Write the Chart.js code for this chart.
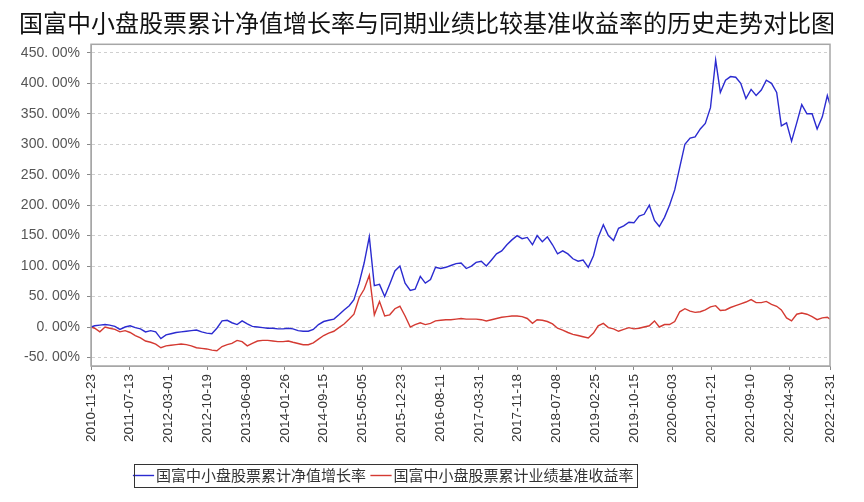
<!DOCTYPE html>
<html>
<head>
<meta charset="utf-8">
<script src="https://cdn.jsdelivr.net/npm/chart.js@4/dist/chart.umd.min.js"></script>
<style>
  html, body { margin: 0; padding: 0; background: #fff; }
  #wrap { width: 864px; height: 502px; }
</style>
</head>
<body>
<div id="wrap"><canvas id="trendChart"></canvas></div>
<script>
const chartTitle = '国富中小盘股票累计净值增长率与同期业绩比较基准收益率的历史走势对比图';
const seriesNames = ['国富中小盘股票累计净值增长率', '国富中小盘股票累计业绩基准收益率'];

// sample dates (month by month)
const dates = [
  '2010-11-23', '2010-12-15',
  '2011-01-15', '2011-02-15', '2011-03-15', '2011-04-15', '2011-05-15', '2011-06-15', '2011-07-15', '2011-08-15', '2011-09-15', '2011-10-15', '2011-11-15', '2011-12-15',
  '2012-01-15', '2012-02-15', '2012-03-15', '2012-04-15', '2012-05-15', '2012-06-15', '2012-07-15', '2012-08-15', '2012-09-15', '2012-10-15', '2012-11-15', '2012-12-15',
  '2013-01-15', '2013-02-15', '2013-03-15', '2013-04-15', '2013-05-15', '2013-06-15', '2013-07-15', '2013-08-15', '2013-09-15', '2013-10-15', '2013-11-15', '2013-12-15',
  '2014-01-15', '2014-02-15', '2014-03-15', '2014-04-15', '2014-05-15', '2014-06-15', '2014-07-15', '2014-08-15', '2014-09-15', '2014-10-15', '2014-11-15', '2014-12-15',
  '2015-01-15', '2015-02-15', '2015-03-15', '2015-04-15', '2015-05-15', '2015-06-15', '2015-07-15', '2015-08-15', '2015-09-15', '2015-10-15', '2015-11-15', '2015-12-15',
  '2016-01-15', '2016-02-15', '2016-03-15', '2016-04-15', '2016-05-15', '2016-06-15', '2016-07-15', '2016-08-15', '2016-09-15', '2016-10-15', '2016-11-15', '2016-12-15',
  '2017-01-15', '2017-02-15', '2017-03-15', '2017-04-15', '2017-05-15', '2017-06-15', '2017-07-15', '2017-08-15', '2017-09-15', '2017-10-15', '2017-11-15', '2017-12-15',
  '2018-01-15', '2018-02-15', '2018-03-15', '2018-04-15', '2018-05-15', '2018-06-15', '2018-07-15', '2018-08-15', '2018-09-15', '2018-10-15', '2018-11-15', '2018-12-15',
  '2019-01-15', '2019-02-15', '2019-03-15', '2019-04-15', '2019-05-15', '2019-06-15', '2019-07-15', '2019-08-15', '2019-09-15', '2019-10-15', '2019-11-15', '2019-12-15',
  '2020-01-15', '2020-02-15', '2020-03-15', '2020-04-15', '2020-05-15', '2020-06-15', '2020-07-15', '2020-08-15', '2020-09-15', '2020-10-15', '2020-11-15', '2020-12-15',
  '2021-01-15', '2021-02-15', '2021-03-15', '2021-04-15', '2021-05-15', '2021-06-15', '2021-07-15', '2021-08-15', '2021-09-15', '2021-10-15', '2021-11-15', '2021-12-15',
  '2022-01-15', '2022-02-15', '2022-03-15', '2022-04-15', '2022-05-15', '2022-06-15', '2022-07-15', '2022-08-15', '2022-09-15', '2022-10-15', '2022-11-15', '2022-12-15',
  '2022-12-31'
];

// fund NAV growth, %
const navGrowth = [
  0, 2,
  3, 4, 3, 1, -4, 0, 2, -1, -3, -8, -6, -8,
  -19, -13, -11, -9, -8, -7, -6, -5, -8, -10, -11, -2,
  10, 11, 7, 4, 10, 5, 1, 0, -1, -2, -2, -3,
  -3, -2, -3, -6, -7, -7, -4, 4, 9, 11, 13, 20,
  28, 35, 45, 72, 105, 148, 68, 70, 50, 70, 92, 100,
  72, 60, 62, 83, 72, 78, 98, 96, 98, 101, 104, 105,
  96, 100, 106, 108, 100, 110, 120, 125, 135, 143, 150, 145,
  147, 135, 150, 140, 148, 135, 120, 125, 120, 112, 108, 110,
  98, 117, 147, 168, 150, 142, 162, 166, 172, 171, 182, 185,
  200, 175, 165, 180, 200, 225, 262, 300, 310, 312, 325, 334,
  360, 438, 385, 405, 411, 410, 400, 375, 390, 380, 389, 405,
  400, 385, 330, 335, 305, 335, 365, 350, 350, 325, 345, 380,
  365
];

// benchmark return, %
const benchmark = [
  0, -2,
  -8, 0, -2, -4, -8, -6, -9, -14, -18, -23, -25, -28,
  -34, -31, -30, -29, -28, -29, -31, -34, -35, -36, -38, -39,
  -32, -29, -27, -22, -24, -31, -27, -23, -22, -22, -23, -24,
  -24, -23, -25, -27, -29, -29, -26, -20, -14, -10, -7, -1,
  5, 13, 21, 48, 62, 85, 20, 42, 18, 20, 30, 34,
  18, 0, 4, 7, 4, 6, 10, 11, 12, 12, 13, 14,
  13, 13, 13, 12, 10, 12, 14, 16, 17, 18, 18, 17,
  14, 6, 12, 11, 9, 5, -2, -5, -9, -12, -14, -16,
  -18, -10, 2, 6, -1, -3, -7, -4, -1, -3, -2, 0,
  2, 10, 0, 4, 4, 9, 25, 30, 26, 24, 25, 28,
  33, 35, 27, 28, 32, 35, 38, 41, 45, 40, 40, 42,
  37, 34, 28, 15, 10, 21, 23, 21, 17, 12, 15, 16,
  13
];

const xTickLabels = [
  '2010-11-23', '2011-07-13', '2012-03-01', '2012-10-19', '2013-06-08',
  '2014-01-26', '2014-09-15', '2015-05-05', '2015-12-23', '2016-08-11',
  '2017-03-31', '2017-11-18', '2018-07-08', '2019-02-25', '2019-10-15',
  '2020-06-03', '2021-01-21', '2021-09-10', '2022-04-30', '2022-12-31'
];
const yTicks = [-50, 0, 50, 100, 150, 200, 250, 300, 350, 400, 450];

const toDay = (s) => Date.parse(s + 'T00:00:00Z') / 86400000;
const toPoints = (values) => values.map((v, i) => ({ x: toDay(dates[i]), y: v }));
const dayToLabel = {};
xTickLabels.forEach((d) => { dayToLabel[toDay(d)] = d; });

const framePlugin = {
  id: 'frame',
  afterLayout(chart) {
    // the original centres its title on the page and its legend a bit to the left
    chart.titleBlock.left += 12;
    chart.titleBlock.right += 12;
    chart.legend.left -= 29;
    chart.legend.right -= 29;
  },
  afterDraw(chart) {
    const { ctx, chartArea: a, legend } = chart;
    ctx.save();
    ctx.strokeStyle = '#a6a6a6';
    ctx.lineWidth = 1.5;
    ctx.strokeRect(a.left, a.top, a.right - a.left, a.bottom - a.top);

    const boxes = legend.legendHitBoxes;
    if (boxes && boxes.length) {
      const left = Math.min(...boxes.map((b) => b.left)) - 4;
      const right = Math.max(...boxes.map((b) => b.left + b.width)) + 4;
      const top = boxes[0].top - 4;
      const bottom = boxes[0].top + boxes[0].height + 4;
      ctx.strokeStyle = '#333';
      ctx.lineWidth = 1;
      ctx.strokeRect(Math.round(left) + 0.5, Math.round(top) + 0.5, Math.round(right - left), Math.round(bottom - top));
    }
    ctx.restore();
  }
};

const buildChart = () => {
  const ctx = document.getElementById('trendChart');
  return new Chart(ctx, {
    type: 'line',
    data: {
      datasets: [
        {
          label: seriesNames[0],
          data: toPoints(navGrowth),
          borderColor: '#2b2bd0',
          backgroundColor: '#2b2bd0',
          borderWidth: 1.4,
          pointRadius: 0,
          tension: 0
        },
        {
          label: seriesNames[1],
          data: toPoints(benchmark),
          borderColor: '#d43a32',
          backgroundColor: '#d43a32',
          borderWidth: 1.4,
          pointRadius: 0,
          tension: 0
        }
      ]
    },
    options: {
      responsive: true,
      maintainAspectRatio: false,
      animation: false,
      layout: { padding: { left: 0, right: 34, top: 0, bottom: 9 } },
      plugins: {
        title: {
          display: true,
          text: chartTitle,
          color: '#111',
          font: { family: '"Noto Sans CJK SC", sans-serif', size: 24, weight: 'normal' },
          padding: { top: 8, bottom: 7.5 }
        },
        legend: {
          position: 'bottom',
          labels: {
            usePointStyle: true,
            pointStyle: 'line',
            boxWidth: 10,
            padding: 10,
            color: '#333',
            font: { family: '"Noto Sans CJK SC", sans-serif', size: 15 }
          }
        },
        tooltip: { enabled: false }
      },
      scales: {
        x: {
          type: 'linear',
          min: toDay(xTickLabels[0]),
          max: toDay(xTickLabels[xTickLabels.length - 1]),
          afterBuildTicks: (scale) => {
            scale.ticks = xTickLabels.map((d) => ({ value: toDay(d) }));
          },
          afterFit: (scale) => { scale.height = 92; },
          grid: { drawOnChartArea: false, drawTicks: true, tickLength: 4, tickColor: '#888' },
          border: { color: '#a6a6a6' },
          ticks: {
            autoSkip: false,
            maxRotation: 90,
            minRotation: 90,
            padding: 4,
            color: '#333',
            font: { family: '"Liberation Sans", Arial, sans-serif', size: 13.5 },
            callback: (value) => dayToLabel[value] || ''
          }
        },
        y: {
          min: -64,
          max: 464,
          afterBuildTicks: (scale) => {
            scale.ticks = yTicks.map((v) => ({ value: v }));
          },
          afterFit: (scale) => { scale.width = 91; },
          grid: { color: '#cfcfcf', tickColor: '#888', tickLength: 4, tickBorderDash: [] },
          border: { color: '#a6a6a6', dash: [3, 3] },
          ticks: {
            padding: 7,
            color: '#555',
            font: { family: '"Liberation Sans", Arial, sans-serif', size: 14 },
            callback: (value) => value.toFixed(2).replace('.', '. ') + '%'
          }
        }
      }
    },
    plugins: [framePlugin]
  });
};

buildChart();
</script>
</body>
</html>
